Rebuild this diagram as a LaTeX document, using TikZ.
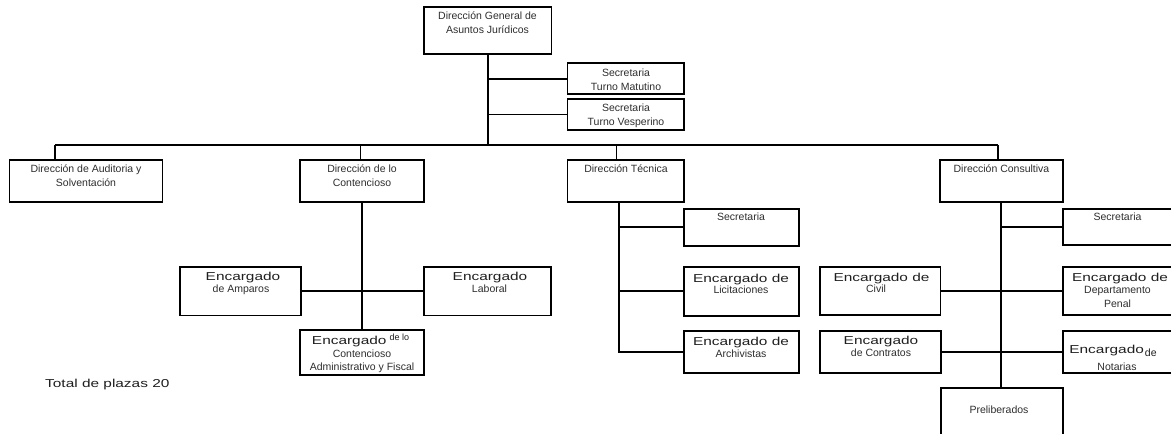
\documentclass[tikz,border=0pt]{standalone}
\usepackage{fontspec}
\newfontfamily\smallfam{Liberation Sans}[FakeStretch=1.0]
\newfontfamily\bigfam{Liberation Sans}[FakeStretch=1.34]
\newcommand\smallf{\smallfam\fontsize{10.5}{12}\selectfont}
\newcommand\tinyf{\smallfam\fontsize{9}{10}\selectfont}
\newcommand\bigf{\bigfam\fontsize{11.5}{14}\selectfont}
\newcommand\orgbox[5]{\node[orgbx, minimum width={#4-#2}, minimum height={#5-#3}] (#1) at (#2,#3) {};}
\tikzset{
  orgbx/.style={draw=black, line width=1.9pt, inner sep=0pt, outer sep=0pt, anchor=north west},
  ln/.style={draw=black, line width=1.9pt},
  sm/.style={font=\smallf, inner sep=0pt, anchor=base, text=black!82},
  tn/.style={font=\tinyf, inner sep=0pt, anchor=base, text=black!82},
  bg/.style={font=\bigf, inner sep=0pt, anchor=base, text=black!88},
}
\begin{document}
\begin{tikzpicture}[x=1pt,y=-1pt]
\useasboundingbox (0,0) rectangle (1171,434);
\fill[white] (0,0) rectangle (1171,434);
\clip (0,0) rectangle (1171,434);

% boxes
\orgbox{top}{423.6}{7.3}{551.5}{54}
\orgbox{sm}{567.5}{63.3}{684.4}{94.3}
\orgbox{sv}{567.5}{99}{684.4}{130}
\orgbox{aud}{9.5}{160}{162.5}{201.7}
\orgbox{con}{300.3}{160}{424}{201.7}
\orgbox{tec}{567.5}{160}{684}{201.7}
\orgbox{cons}{940}{160}{1063}{201.7}
\orgbox{tsec}{683.7}{209}{798.6}{245.7}
\orgbox{lic}{683.7}{266.7}{798.6}{316}
\orgbox{arc}{683.7}{330.7}{798.6}{373.3}
\orgbox{amp}{179.8}{266.7}{301}{315.5}
\orgbox{lab}{423.6}{266.7}{550.6}{315.5}
\orgbox{fis}{300.3}{330}{423.6}{375}
\orgbox{csec}{1063.3}{209}{1174}{245.3}
\orgbox{civ}{820}{266.7}{940.5}{315}
\orgbox{pen}{1063.3}{266.7}{1174}{315}
\orgbox{cont}{820}{330.7}{941}{373.3}
\orgbox{nota}{1063.3}{330.7}{1174}{373.3}
\orgbox{pre}{940.7}{388.3}{1063.3}{437}

% bus and drops
\coordinate (busL) at (55.4,145);
\coordinate (busR) at (998.4,145);
\coordinate (dCon) at (360.5,145);
\coordinate (dTec) at (616.5,145);
\coordinate (tv) at (619,201.7);
\coordinate (cv) at (1001,201.7);
\draw[ln] (top.south) -- (top.south |- busL);
\draw[ln] (top.south |- sm.west) -- (sm.west);
\draw[ln] (top.south |- sv.west) -- (sv.west);
\draw[ln] (busL) -- (busR);
\draw[ln] (busL) -- (busL |- aud.north);
\draw[ln] (dCon) -- (dCon |- con.north);
\draw[ln] (dTec) -- (dTec |- tec.north);
\draw[ln] (busR) -- (busR |- cons.north);

% Contencioso branch
\draw[ln] (fis.north |- con.south) -- (fis.north);
\draw[ln] (amp.east) -- (lab.west);

% Tecnica branch
\draw[ln] (tv) -- (tv |- arc.west) -- (arc.west);
\draw[ln] (tv |- tsec.west) -- (tsec.west);
\draw[ln] (tv |- lic.west) -- (lic.west);

% Consultiva branch
\draw[ln] (cv) -- (cv |- pre.north);
\draw[ln] (cv |- csec.west) -- (csec.west);
\draw[ln] (civ.east) -- (pen.west);
\draw[ln] (cont.east) -- (nota.west);

% texts
\node[sm] (t1) at (487.5,19.3) {Dirección General de};
\node[sm] (t2) at (487.5,33.3) {Asuntos Jurídicos};
\node[sm] (t3) at (626,76) {Secretaria};
\node[sm] (t4) at (626,90) {Turno Matutino};
\node[sm] (t5) at (626,111) {Secretaria};
\node[sm] (t6) at (626,125) {Turno Vesperino};
\node[sm] (t7) at (86,172.7) {Dirección de Auditoria y};
\node[sm] (t8) at (86,186) {Solventación};
\node[sm] (t9) at (362,172.7) {Dirección de lo};
\node[sm] (t10) at (362,186) {Contencioso};
\node[sm] (t11) at (626,172.7) {Dirección Técnica};
\node[sm] (t12) at (1001.5,172.7) {Dirección Consultiva};
\node[sm] (t13) at (741,220) {Secretaria};
\node[bg] (t14) at (741,282.5) {Encargado de};
\node[sm] (t15) at (741,293) {Licitaciones};
\node[bg] (t16) at (741,345) {Encargado de};
\node[sm] (t17) at (741,357) {Archivistas};
\node[bg] (t18) at (243,280) {Encargado};
\node[sm] (t19) at (241,292.5) {de Amparos};
\node[bg] (t20) at (490,280) {Encargado};
\node[sm] (t21) at (489.5,292.5) {Laboral};
\node[bg] (t22) at (360.5,344) {Encargado\hspace{3pt}\raisebox{3.5pt}{\tinyf de lo}};
\node[sm] (t23) at (362,357) {Contencioso};
\node[sm] (t24) at (362,370.5) {Administrativo y Fiscal};
\node[sm] (t25) at (1117.5,220) {Secretaria};
\node[bg] (t26) at (881.5,281.7) {Encargado de};
\node[sm] (t27) at (876,292) {Civil};
\node[bg] (t28) at (1120,281.7) {Encargado de};
\node[sm] (t29) at (1117.5,293.5) {Departamento};
\node[sm] (t30) at (1117.5,307) {Penal};
\node[bg] (t31) at (881,344) {Encargado};
\node[sm] (t32) at (881,356.5) {de Contratos};
\node[bg] (t33) at (1113,353) {Encargado\hspace{1pt}\raisebox{-3pt}{\smallf de}};
\node[sm] (t34) at (1117,370.5) {Notarias};
\node[sm] (t35) at (999,413.5) {Preliberados};
\node[bg, anchor=base west] (total) at (45,387.7) {Total de plazas 20};
\end{tikzpicture}
\end{document}
